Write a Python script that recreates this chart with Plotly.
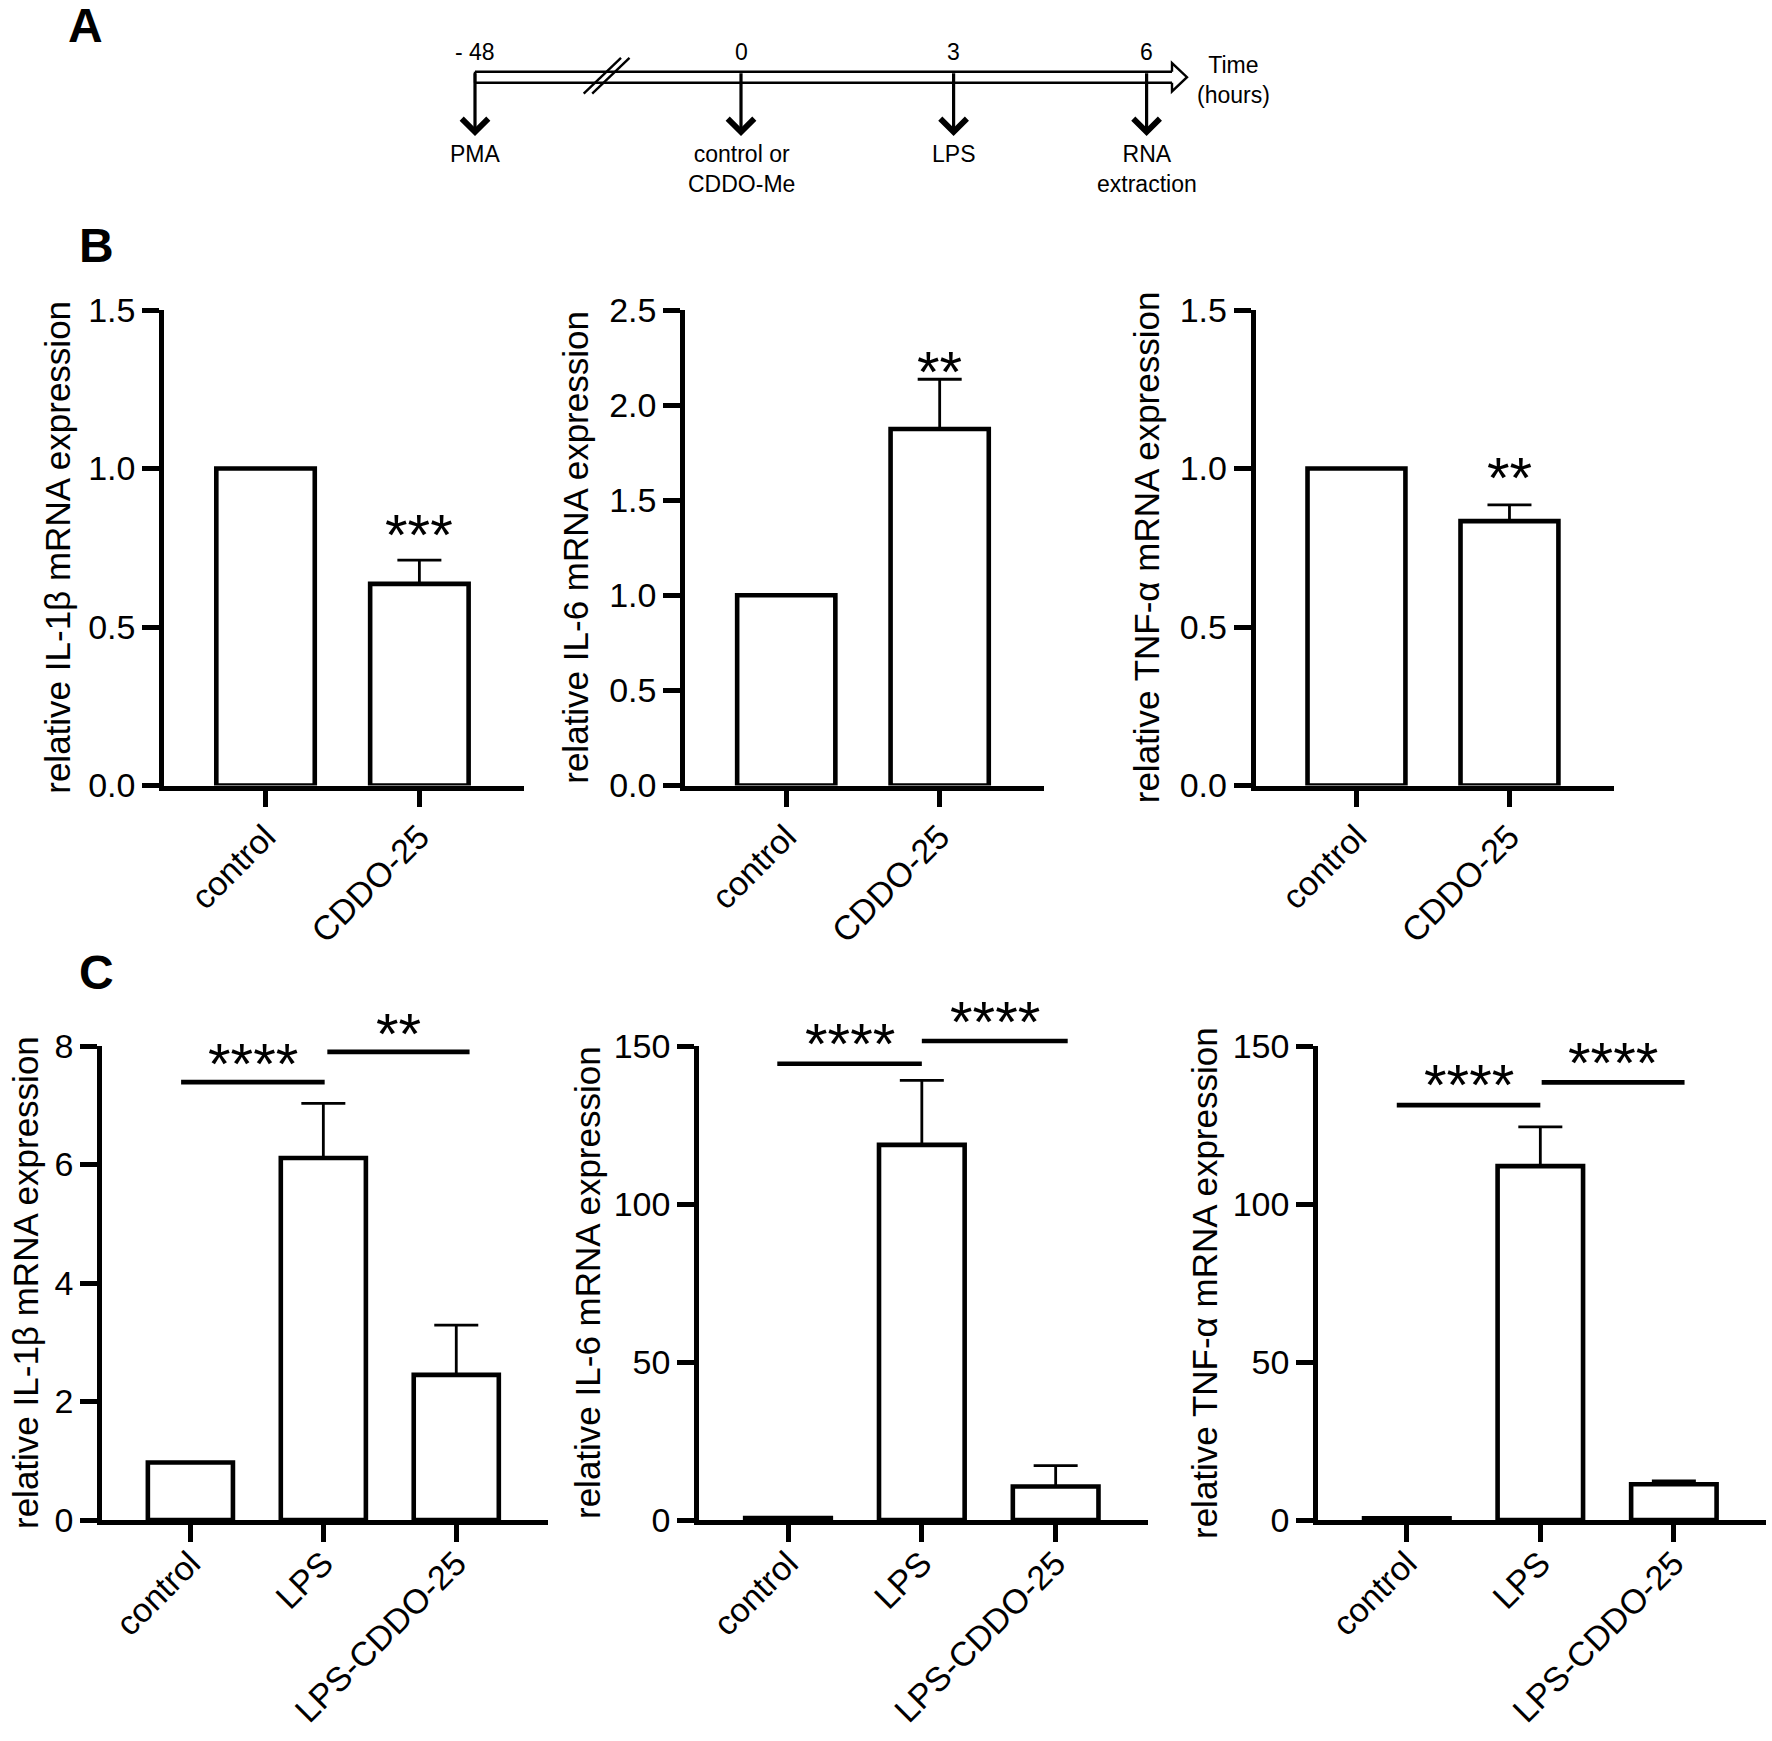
import plotly.graph_objects as go

W, H = 1772, 1741
FONT = 'Liberation Sans, Arial, sans-serif'

# panel A: treatment timeline
time_points = ['- 48', '0', '3', '6']
time_events = ['PMA', 'control or<br>CDDO-Me', 'LPS', 'RNA<br>extraction']

# panel B: control vs CDDO-Me
b_groups = ['control', 'CDDO-25']
b_il1b = [1.0, 0.636]
b_il1b_sem = [0.0, 0.075]
b_il6 = [1.0, 1.874]
b_il6_sem = [0.0, 0.262]
b_tnf = [1.0, 0.834]
b_tnf_sem = [0.0, 0.051]
b_ymax = [1.5, 2.5, 1.5]
b_sig = ['***', '**', '**']
b_sig_y = [0.812, 2.209, 0.99]

# panel C: LPS stimulation
c_groups = ['control', 'LPS', 'LPS-CDDO-25']
c_il1b = [0.97, 6.11, 2.45]
c_il1b_sem = [0.0, 0.92, 0.84]
c_il6 = [0.6, 118.7, 10.6]
c_il6_sem = [0.0, 20.4, 6.6]
c_tnf = [0.5, 112.0, 11.3]
c_tnf_sem = [0.0, 12.4, 1.1]
c_ymax = [8, 150, 150]
c_dtick = [2, 50, 50]
# significance bars: start / end (group index), height, label
c_brk_start = [[-0.07, 1.03], [-0.08, 1.0], [-0.075, 1.01]]
c_brk_end = [[1.01, 2.1], [1.0, 2.09], [1.0, 2.08]]
c_brk_y = [[7.39, 7.9], [144.4, 151.6], [131.3, 138.5]]
c_sig = [['****', '**'], ['****', '****'], ['****', '****']]
c_sig_y = [[7.8, 8.32], [152.7, 159.7], [139.8, 146.6]]

y_titles = ['relative IL-1β mRNA expression',
            'relative IL-6 mRNA expression',
            'relative TNF-α mRNA expression']


def xp(px):
    return px / W


def yp(py):
    return 1 - py / H


tick_font = dict(family=FONT, size=34, color='black')
star_font = dict(family=FONT, size=58, color='black')
LW = 4.6

fig = go.Figure()
annotations = []
shapes = []


def axis_name(n, letter):
    return letter if n == 1 else f'{letter}{n}'


def add_panel(n, groups, vals, sem, xdom, ydom, xrange, ymax, dtick, tickformat, title,
              title_x, label_shift):
    xa, ya = axis_name(n, 'x'), axis_name(n, 'y')
    fig.add_trace(go.Bar(
        x=groups, y=vals, xaxis=xa, yaxis=ya, width=0.64,
        marker=dict(color='white', line=dict(color='black', width=LW)),
        error_y=dict(type='data', array=sem, arrayminus=[0] * len(sem), symmetric=False,
                     color='black', thickness=2.8, width=22),
        showlegend=False, hoverinfo='skip'))
    common = dict(showline=True, linecolor='black', linewidth=LW, ticks='outside',
                  ticklen=17, tickwidth=LW, tickcolor='black', showgrid=False,
                  zeroline=False, tickfont=tick_font, automargin=False, fixedrange=True)
    fig.update_layout(**{
        axis_name(n, 'xaxis'): dict(common, domain=[xp(xdom[0]), xp(xdom[1])], range=xrange,
                                    anchor=ya, tickangle=-45, type='category',
                                    ticklabelstandoff=label_shift),
        axis_name(n, 'yaxis'): dict(common, domain=[yp(ydom[1]), yp(ydom[0])], range=[0, ymax],
                                    anchor=xa, dtick=dtick, tick0=0, tickformat=tickformat),
    })
    annotations.append(dict(xref='paper', yref='paper', x=xp(title_x),
                            y=yp((ydom[0] + ydom[1]) / 2), text=title, textangle=-90,
                            showarrow=False, font=dict(family=FONT, size=35, color='black'),
                            xanchor='center', yanchor='middle'))
    # invisible companion axes, taller than the plot, for significance marks
    m = n + 6
    ext = 90
    top = ydom[0] - ext
    fig.update_layout(**{
        f'xaxis{m}': dict(domain=[xp(xdom[0]), xp(xdom[1])], range=xrange, type='linear',
                          visible=False, anchor=f'y{m}', fixedrange=True),
        f'yaxis{m}': dict(domain=[yp(ydom[1]), yp(top)],
                          range=[0, ymax * (ydom[1] - top) / (ydom[1] - ydom[0])],
                          visible=False, anchor=f'x{m}', fixedrange=True),
    })
    return m


B_X = [(164, 524), (685, 1044), (1255.5, 1613.5)]
B_Y = (310, 785.5)
C_X = [(102, 548), (699, 1148), (1318, 1766)]
C_Y = (1046, 1520)
B_TITLE_X = [58, 576, 1146.5]
C_TITLE_X = [25, 587, 1204]

b_vals = [b_il1b, b_il6, b_tnf]
b_sems = [b_il1b_sem, b_il6_sem, b_tnf_sem]
for i in range(3):
    m = add_panel(i + 1, b_groups, b_vals[i], b_sems[i], B_X[i], B_Y, [-0.66, 1.68],
                  b_ymax[i], 0.5, '.1f', y_titles[i], B_TITLE_X[i], -4)
    annotations.append(dict(xref=f'x{m}', yref=f'y{m}', x=1, y=b_sig_y[i], text=b_sig[i],
                            showarrow=False, yshift=-6, font=star_font))

c_vals = [c_il1b, c_il6, c_tnf]
c_sems = [c_il1b_sem, c_il6_sem, c_tnf_sem]
for i in range(3):
    m = add_panel(i + 4, c_groups, c_vals[i], c_sems[i], C_X[i], C_Y, [-0.665, 2.69],
                  c_ymax[i], c_dtick[i], None, y_titles[i], C_TITLE_X[i], -12)
    bx, by = [], []
    for s, e, h in zip(c_brk_start[i], c_brk_end[i], c_brk_y[i]):
        bx += [s, e, None]
        by += [h, h, None]
    fig.add_trace(go.Scatter(x=bx, y=by, mode='lines', xaxis=f'x{m}', yaxis=f'y{m}',
                             line=dict(color='black', width=LW), showlegend=False,
                             hoverinfo='skip'))
    for s, e, lab, ly in zip(c_brk_start[i], c_brk_end[i], c_sig[i], c_sig_y[i]):
        annotations.append(dict(xref=f'x{m}', yref=f'y{m}', x=(s + e) / 2, y=ly, text=lab,
                                showarrow=False, yshift=-6, font=star_font))

# panel A timeline drawing
event_px = [475, 741, 953.6, 1146.6]
line_top, line_bot = 71.7, 82.7
tl_kw = dict(type='line', xref='paper', yref='paper', line=dict(color='black', width=2.4))
shapes.append(dict(tl_kw, x0=xp(475), x1=xp(1172), y0=yp(line_top), y1=yp(line_top)))
shapes.append(dict(tl_kw, x0=xp(475), x1=xp(1172), y0=yp(line_bot), y1=yp(line_bot)))
shapes.append(dict(tl_kw, x0=xp(475), x1=xp(475), y0=yp(line_top), y1=yp(line_bot)))
head = [(1172, line_top), (1172, 63), (1187, 77.2), (1172, 91.4), (1172, line_bot)]
path = 'M ' + ' L '.join(f'{xp(a):.5f},{yp(b):.5f}' for a, b in head)
shapes.append(dict(type='path', xref='paper', yref='paper', path=path,
                   line=dict(color='black', width=2.4)))
for off in (0, 8.5):
    shapes.append(dict(tl_kw, x0=xp(583.7 + off), x1=xp(621 + off), y0=yp(93.7), y1=yp(57.9)))

small = dict(family=FONT, size=23, color='black')
for ex, tp, ev in zip(event_px, time_points, time_events):
    annotations.append(dict(xref='paper', yref='paper', x=xp(ex), y=yp(136), ax=0,
                            ay=-(136 - line_top), axref='pixel', ayref='pixel', text='',
                            showarrow=True, arrowhead=4, arrowsize=1.6, arrowwidth=3.2,
                            arrowcolor='black'))
    annotations.append(dict(xref='paper', yref='paper', x=xp(ex), y=yp(52), text=tp,
                            showarrow=False, font=small, xanchor='center', yanchor='middle'))
    annotations.append(dict(xref='paper', yref='paper', x=xp(ex), y=yp(139), text=ev,
                            showarrow=False, font=small, xanchor='center', yanchor='top'))
annotations.append(dict(xref='paper', yref='paper', x=xp(1233), y=yp(80), text='Time<br>(hours)',
                        showarrow=False, font=small, xanchor='center', yanchor='middle'))

for letter, (lx, ly) in zip(['A', 'B', 'C'], [(85, 26), (96, 246), (96, 972)]):
    annotations.append(dict(xref='paper', yref='paper', x=xp(lx), y=yp(ly), text=f'<b>{letter}</b>',
                            showarrow=False, xanchor='center', yanchor='middle',
                            font=dict(family=FONT, size=48, color='black')))

fig.update_layout(width=W, height=H, margin=dict(l=0, r=0, t=0, b=0),
                  paper_bgcolor='white', plot_bgcolor='rgba(0,0,0,0)', template='none',
                  annotations=annotations, shapes=shapes)

fig.write_html('out.html', config={'displayModeBar': False},
               post_script="document.body.style.margin='0';")
